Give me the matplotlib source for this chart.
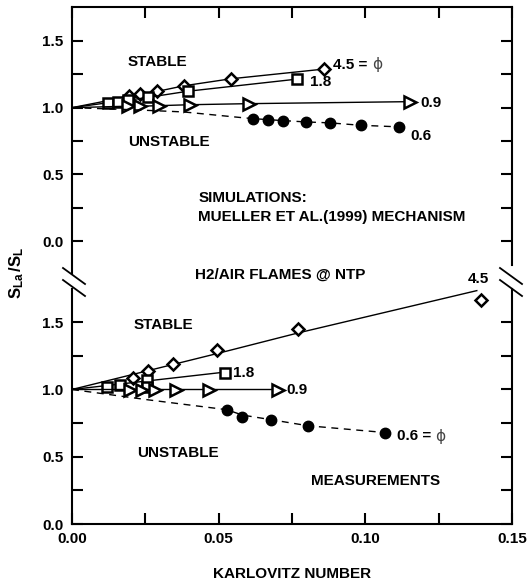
import matplotlib
matplotlib.use('Agg')
import matplotlib.pyplot as plt
from matplotlib.lines import Line2D

plt.rcParams['font.family'] = ['Liberation Sans', 'DejaVu Sans']
plt.rcParams['font.weight'] = 'bold'
plt.rcParams['axes.labelweight'] = 'bold'
plt.rcParams['mathtext.fontset'] = 'custom'
plt.rcParams['mathtext.rm'] = 'Liberation Sans:bold'
plt.rcParams['mathtext.bf'] = 'Liberation Sans:bold'
plt.rcParams['mathtext.it'] = 'Liberation Sans:bold'

# simulations (upper panel)
sim45_x = [0.0195, 0.0232, 0.0291, 0.0382, 0.0541, 0.0859]
sim45_y = [1.084, 1.102, 1.122, 1.164, 1.216, 1.289]
sim18_x = [0.0123, 0.0157, 0.0191, 0.0259, 0.0395, 0.0768]
sim18_y = [1.037, 1.045, 1.056, 1.077, 1.123, 1.214]
sim09_x = [0.0191, 0.0232, 0.0297, 0.0402, 0.0603, 0.1152]
sim09_y = [1.011, 1.011, 1.015, 1.022, 1.030, 1.045]
sim06_x = [0.0618, 0.0669, 0.0720, 0.0798, 0.0880, 0.0984, 0.1116]
sim06_y = [0.918, 0.910, 0.903, 0.893, 0.886, 0.868, 0.856]
sim06_line_x = [0.0, 0.02, 0.038, 0.058]
sim06_line_y = [1.0, 0.985, 0.968, 0.925]

# measurements (lower panel)
exp45_x = [0.0207, 0.0259, 0.0343, 0.0493, 0.0772, 0.1394]
exp45_y = [1.087, 1.134, 1.191, 1.290, 1.446, 1.669]
fit45_x = [0.0, 0.05, 0.077, 0.138]
fit45_y = [1.0, 1.27, 1.42, 1.735]
exp18_x = [0.0119, 0.0164, 0.0255, 0.0255, 0.0522]
exp18_y = [1.022, 1.037, 1.074, 1.02, 1.126]
fit18_x = [0.0, 0.0512]
fit18_y = [1.0, 1.127]
exp09_x = [0.0198, 0.0239, 0.0283, 0.0356, 0.0467, 0.0703]
exp09_y = [0.996, 0.996, 0.996, 0.996, 0.996, 0.998]
fit09_x = [0.0, 0.0703]
fit09_y = [1.0, 1.0]
exp06_x = [0.0527, 0.0581, 0.0680, 0.0806, 0.1067]
exp06_y = [0.848, 0.799, 0.775, 0.727, 0.678]
fit06_x = [0.0, 0.026, 0.0527, 0.0581, 0.068, 0.0806, 0.1067]
fit06_y = [1.0, 0.923, 0.85, 0.81, 0.775, 0.73, 0.68]

fig = plt.figure(figsize=(5.27, 5.86), dpi=100)
L, W = 72 / 527, 440 / 527
ax_top = fig.add_axes([L, 1 - 280 / 586, W, 273 / 586])
ax_bot = fig.add_axes([L, 1 - 524 / 586, W, 244 / 586])

fs = 11
ew = 1.8
mk = dict(markerfacecolor='white', markeredgecolor='black', markeredgewidth=ew, color='black', lw=1.0)
mko = dict(linestyle='none', markerfacecolor='white', markeredgecolor='black', markeredgewidth=ew)

# upper panel
ax = ax_top
ax.plot([0] + sim45_x, [1.0] + sim45_y, marker='D', markersize=6.5, markevery=list(range(1, 7)), **mk)
ax.plot([0] + sim18_x, [1.0] + sim18_y, marker='s', markersize=7, markevery=list(range(1, 7)), **mk)
ax.plot([0] + sim09_x, [1.0] + sim09_y, marker='>', markersize=8, markevery=list(range(1, 7)), **mk)
ax.plot(sim06_line_x + sim06_x, sim06_line_y + sim06_y, color='black', lw=1.0, ls=(0, (5, 4)))
ax.plot(sim06_x, sim06_y, 'o', color='black', markersize=7.5)

ax.text(0.0191, 1.343, 'STABLE', fontsize=fs, va='center')
ax.text(0.0191, 0.739, 'UNSTABLE', fontsize=fs, va='center')
ax.text(0.043, 0.321, 'SIMULATIONS:', fontsize=fs, va='center')
ax.text(0.043, 0.179, 'MUELLER ET AL.(1999) MECHANISM', fontsize=fs, va='center')
ax.text(0.0419, -0.254, 'H2/AIR FLAMES @ NTP', fontsize=fs, va='center', clip_on=False)
t = ax.text(0.0891, 1.321, '4.5 = ', fontsize=fs, va='center')
ax.annotate('\u03d5', xy=(1, 0.5), xycoords=t, va='center', ha='left', fontsize=fs,
            fontweight='normal', family='DejaVu Sans', color='#444444')
ax.text(0.0811, 1.194, '1.8', fontsize=fs, va='center')
ax.text(0.1187, 1.035, '0.9', fontsize=fs, va='center')
ax.text(0.1152, 0.791, '0.6', fontsize=fs, va='center')

ax.set_ylim(-0.291, 1.754)
ax.set_yticks([-0.0, 0.5, 1.0, 1.5])
ax.set_yticklabels(['0.0', '0.5', '1.0', '1.5'])
ax.set_yticks([0.25, 0.75, 1.25], minor=True)
ax.spines['bottom'].set_visible(False)
ax.spines['left'].set_bounds(-0.24, 1.754)
ax.spines['right'].set_bounds(-0.18, 1.754)
ax.tick_params(axis='x', which='both', bottom=False, top=True, labelbottom=False)
ax.tick_params(axis='y', which='both', left=True, right=True)

# lower panel
ax = ax_bot
ax.plot(fit45_x, fit45_y, color='black', lw=1.0)
ax.plot(exp45_x, exp45_y, marker='D', markersize=6.5, **mko)
ax.plot(fit18_x, fit18_y, color='black', lw=1.0)
ax.plot(exp18_x, exp18_y, marker='s', markersize=7, **mko)
ax.plot(fit09_x, fit09_y, color='black', lw=1.0)
ax.plot(exp09_x, exp09_y, marker='>', markersize=8, **mko)
ax.plot(fit06_x, fit06_y, color='black', lw=1.0, ls=(0, (5, 4)))
ax.plot(exp06_x, exp06_y, 'o', color='black', markersize=7.5)

ax.text(0.0209, 1.481, 'STABLE', fontsize=fs, va='center')
ax.text(0.0221, 0.529, 'UNSTABLE', fontsize=fs, va='center')
ax.text(0.0815, 0.323, 'MEASUREMENTS', fontsize=fs, va='center')
ax.text(0.055, 1.124, '1.8', fontsize=fs, va='center')
ax.text(0.0732, 0.993, '0.9', fontsize=fs, va='center')
ax.text(0.135, 1.82, '4.5', fontsize=fs, va='center', clip_on=False)
t = ax.text(0.1107, 0.651, '0.6 = ', fontsize=fs, va='center')
ax.annotate('\u03d5', xy=(1, 0.5), xycoords=t, va='center', ha='left', fontsize=fs,
            fontweight='normal', family='DejaVu Sans', color='#444444')

ax.set_ylim(0, 1.814)
ax.set_yticks([0.0, 0.5, 1.0, 1.5])
ax.set_yticklabels(['0.0', '0.5', '1.0', '1.5'])
ax.set_yticks([0.25, 0.75, 1.25], minor=True)
ax.spines['top'].set_visible(False)
ax.spines['left'].set_bounds(0, 1.75)
ax.spines['right'].set_bounds(0, 1.75)
ax.tick_params(axis='x', which='both', bottom=True, top=False)
ax.tick_params(axis='y', which='both', left=True, right=True)
ax.set_xlabel('KARLOVITZ NUMBER', fontsize=fs, fontweight='bold', labelpad=15)

for ax in (ax_top, ax_bot):
    ax.set_xlim(0, 0.15)
    ax.set_xticks([0.0, 0.05, 0.10, 0.15])
    ax.set_xticklabels(['0.00', '0.05', '0.10', '0.15'])
    ax.set_xticks([0.025, 0.075, 0.125], minor=True)
    ax.tick_params(which='both', direction='in', length=8, width=1.5, labelsize=fs, pad=6)
    for s in ax.spines.values():
        s.set_linewidth(1.5)
    ax.patch.set_visible(False)

# break marks
for x0 in (63, 500):
    for y0 in (268, 280):
        fig.add_artist(Line2D([x0 / 527, (x0 + 22) / 527], [1 - y0 / 586, 1 - (y0 + 16) / 586],
                              color='black', lw=1.3))

fig.text(17 / 527, 1 - 273 / 586, r'$S_{La}\,/S_L$', rotation=90, fontsize=12,
         ha='center', va='center')

fig.savefig('out.png', dpi=100)
